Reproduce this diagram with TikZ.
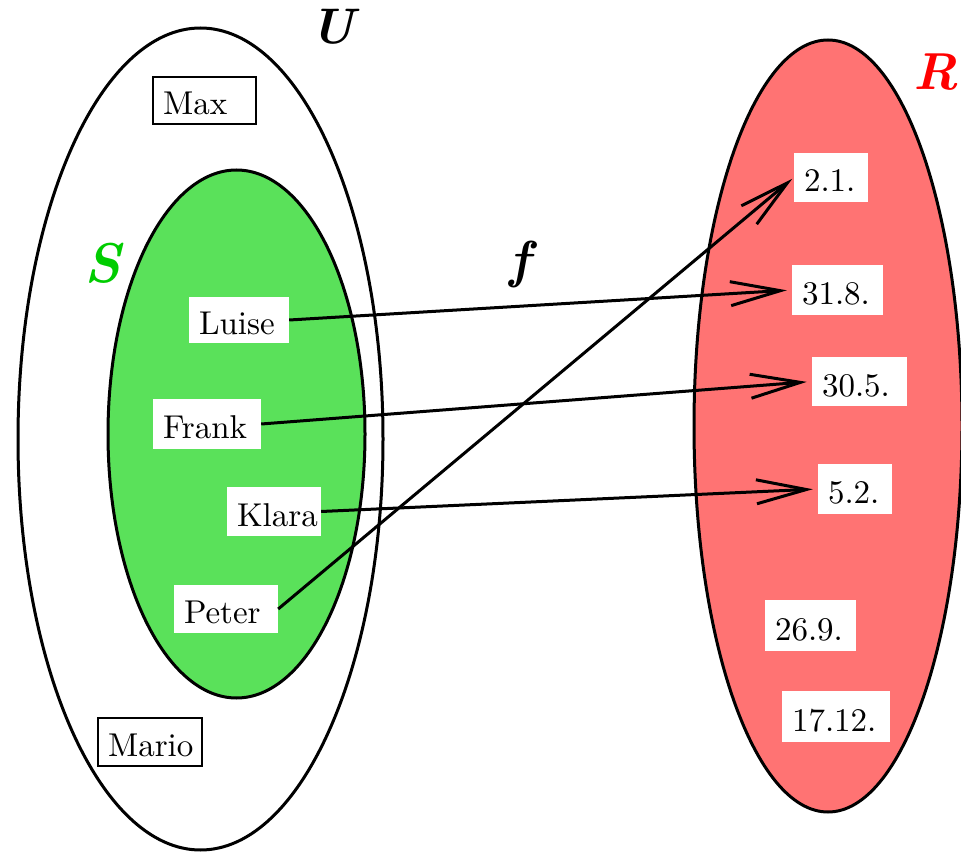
\documentclass[tikz,border=0pt]{standalone}
\usepackage{fontspec}
\setmainfont{lmroman10-regular.otf}[BoldFont=lmroman10-bold.otf,
  ItalicFont=lmroman10-italic.otf, BoldItalicFont=lmroman10-bolditalic.otf]
\usetikzlibrary{arrows.meta}
\definecolor{setgreen}{RGB}{90,225,90}
\definecolor{setred}{RGB}{255,115,115}
\definecolor{namegreen}{RGB}{0,205,0}
% text of an element box: left aligned, baseline a little below the box centre
\newcommand{\itemlabel}[2]{\makebox[#1pt][l]{\raisebox{-14.5pt}[0pt][0pt]{#2}}}
\begin{document}
\begin{tikzpicture}[x=1pt,y=-1pt,
  setline/.style={line width=3pt},
  itembox/.style={rectangle, fill=white, inner xsep=10pt, inner ysep=0pt,
    minimum height=48pt, font=\rmfamily\fontsize{33}{40}\selectfont},
  framed/.style={draw, line width=1.3pt},
  setname/.style={font=\rmfamily\fontsize{#1}{#1}\selectfont\bfseries\itshape, inner sep=0pt},
  conn/.style={line width=3pt, -{Straight Barb[length=50pt,width=24pt]}, shorten >=5pt}]
\useasboundingbox (0,0) rectangle (961,866);

% universe U, subset S, range R
\draw[setline, fill=white] (200.5,439) ellipse [x radius=182.5pt, y radius=411pt];
\draw[setline, fill=setgreen] (236.5,434) ellipse [x radius=128.5pt, y radius=264pt];
\draw[setline, fill=setred] (828,426) ellipse [x radius=134pt, y radius=386pt];

\node[setname=50] (ulabel) at (333,27) {U};
\node[setname=56, text=namegreen] (slabel) at (103,263) {S};
\node[setname=52, text=red] (rlabel) at (936,72) {R};
\node[setname=52] (flabel) at (520,265) {f};

% elements of U
\node[itembox, framed, minimum height=47pt] (max) at (204.5,100.5) {\itemlabel{83}{Max}};
\node[itembox, framed] (mario) at (150,742) {\itemlabel{84}{Mario}};
\node[itembox, minimum height=46pt] (luise) at (239,320) {\itemlabel{80}{Luise}};
\node[itembox, minimum height=50pt] (frank) at (207,424) {\itemlabel{88}{Frank}};
\node[itembox, minimum height=49pt] (klara) at (274,511.5) {\itemlabel{74}{Klara}};
\node[itembox] (peter) at (226,609) {\itemlabel{84}{Peter}};

% dates in R
\node[itembox, minimum height=49pt] (d0201) at (831,177.5) {\itemlabel{54}{2.1.}};
\node[itembox, minimum height=50pt] (d3108) at (837.5,290) {\itemlabel{71}{31.8.}};
\node[itembox, minimum height=49pt] (d3005) at (859.5,381.5) {\itemlabel{75}{30.5.}};
\node[itembox, minimum height=50pt] (d0502) at (855,489) {\itemlabel{54}{5.2.}};
\node[itembox, minimum height=51pt] (d2609) at (810.5,625.5) {\itemlabel{71}{26.9.}};
\node[itembox, minimum height=51pt] (d1712) at (836,716.5) {\itemlabel{88}{17.12.}};

% the mapping f
\draw[conn] (luise.east) -- (d3108.west);
\draw[conn] (frank.east) -- (d3005.west);
\draw[conn] (klara.east) -- (d0502.west);
\draw[conn, shorten >=2pt] (peter.east) -- (d0201.west);
\end{tikzpicture}
\end{document}
